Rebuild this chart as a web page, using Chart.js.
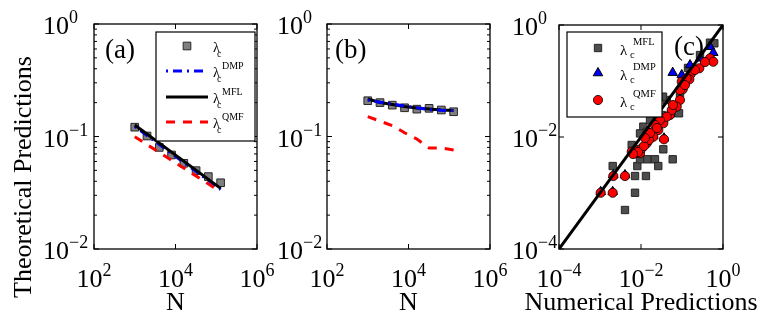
<!DOCTYPE html>
<html>
<head>
<meta charset="utf-8">
<script src="https://cdn.jsdelivr.net/npm/chart.js@4.4.0/dist/chart.umd.min.js"></script>
<style>
  body { margin: 0; background: #fff; }
  #wrap { position: relative; width: 765px; height: 320px; }
  #wrap canvas { position: absolute; left: 0; top: 0; }
</style>
</head>
<body>
<div id="wrap">
  <canvas id="chartA" width="765" height="320"></canvas>
  <canvas id="chartB" width="765" height="320"></canvas>
  <canvas id="chartC" width="765" height="320"></canvas>
</div>
<script>
// network sizes used in (a) and (b)
const sizes = [1000, 2000, 4000, 8000, 16000, 32000, 64000, 128000];
const lineEnds = [1000, 128000];

// panel (a)
const aSim = [0.121, 0.101, 0.080, 0.0685, 0.0578, 0.0497, 0.044, 0.0388];
const aDMP = [0.1227, 0.0338];
const aMFL = [0.1265, 0.0346];
const aQMF = [0.0996, 0.0323];

// panel (b)
const bSim = [0.208, 0.200, 0.190, 0.180, 0.175, 0.178, 0.172, 0.166];
const bDMP = [0.210, 0.202, 0.195, 0.187, 0.180, 0.173, 0.171, 0.170];
const bMFL = [0.2154, 0.2005, 0.1925, 0.1848, 0.179, 0.1755, 0.172, 0.1703];
const bQMF = [0.150, 0.137, 0.125, 0.108, 0.095, 0.079, 0.079, 0.076];

// panel (c): numerical vs theoretical
const mflNum = [2.04e-3, 7.15e-3, 1.32e-2, 7.15e-3, 4.07e-3, 8.13e-3, 9.46e-3, 1.43e-2, 2.19e-2, 2.64e-2,
                3.50e-2, 5.93e-2, 5.93e-3, 0.482, 0.614, 8.93e-2, 8.45e-2, 1.14e-2, 1.66e-2, 9.46e-3,
                4.24e-2, 3.44e-2, 0.14, 0.275, 3.2e-2, 1.38e-2];
const mflThe = [3.03e-3, 2.01e-3, 2.01e-3, 1.01e-3, 4.97e-4, 3.03e-3, 4.0e-3, 4.0e-3, 4.0e-3, 3.03e-3,
                6.03e-3, 4.0e-3, 7.2e-3, 0.483, 0.471, 6.03e-2, 2.65e-2, 1.53e-2, 2.01e-2, 1.16e-2,
                4.58e-2, 5.25e-2, 0.171, 0.291, 2.47e-2, 1.24e-2];

const dmpNum = [5.93e-2, 0.482, 0.579, 0.275, 0.157, 9.84e-2,
                1.04e-3, 2.04e-3, 2.11e-3, 4.07e-3, 3.64e-2, 7.15e-3, 2.0e-2, 5.09e-2];
const dmpThe = [0.141, 0.41, 0.32, 0.254, 0.193, 0.128,
                1.05e-3, 1.05e-3, 2.1e-3, 2.1e-3, 9.5e-3, 5.3e-3, 1.05e-2, 2.55e-2];

const qmfNum = [1.04e-3, 2.04e-3, 2.11e-3, 4.07e-3, 3.64e-2, 7.15e-3, 9.46e-3, 7.85e-3,
                0.482, 0.579, 0.264, 0.163, 0.151, 9.84e-2, 0.104, 8.93e-2, 7.43e-2, 5.09e-2,
                3.5e-2, 2.64e-2, 2.0e-2, 1.38e-2, 1.04e-2, 5.93e-3, 8.93e-2, 5.61e-2, 4.24e-2,
                2.9e-2, 2.19e-2, 0.130, 1.57e-2, 1.18e-2,
                1.66e-2, 1.25e-2, 2.45e-2, 6.03e-2, 0.118, 0.207, 0.364, 8.45e-3, 6.38e-3];
const qmfThe = [1.01e-3, 1.01e-3, 2.01e-3, 2.01e-3, 9.1e-3, 5.12e-3, 5.12e-3, 5.86e-3,
                0.254, 0.221, 0.169, 0.133, 0.107, 9.7e-2, 7.1e-2, 4.58e-2, 3.48e-2, 2.47e-2,
                1.76e-2, 1.33e-2, 1.01e-2, 7.71e-3, 6.28e-3, 5.47e-3, 6.9e-2, 3.03e-2, 2.3e-2,
                2.01e-2, 1.64e-2, 0.112, 8.84e-3, 6.9e-3,
                1.18e-2, 9.6e-3, 1.45e-2, 3.73e-2, 8.48e-2, 0.157, 0.218, 5.4e-3, 4.97e-3];
const diag = [1e-4, 1];

// tick values
const abXTicks = [1e2, 1e4, 1e6];
const abYTicks = [1e-2, 1e-1, 1e0];
const cTicks = [1e-4, 1e-2, 1e0];

const serif = '"Liberation Serif", "Times New Roman", serif';
const toPts = (xs, ys) => xs.map((x, i) => ({ x: x, y: ys[i] }));

const abYMinor = [];
[0.01, 0.1].forEach(d => { for (let k = 2; k <= 9; k++) abYMinor.push(k * d); });

// draws 10^exp with the exponent raised
function drawPow(ctx, exp, x, y, align) {
  const sup = exp < 0 ? '\u2212' + Math.abs(exp) : String(exp);
  ctx.font = '26px ' + serif;
  const wb = ctx.measureText('10').width;
  ctx.font = '18px ' + serif;
  const ws = ctx.measureText(sup).width;
  const x0 = align === 'center' ? x - (wb + ws) / 2 : x;
  ctx.textAlign = 'left';
  ctx.textBaseline = 'alphabetic';
  ctx.font = '26px ' + serif;
  ctx.fillText('10', x0, y);
  ctx.font = '18px ' + serif;
  ctx.fillText(sup, x0 + wb, y - 11);
}

const framePlugin = {
  id: 'frame',
  afterDatasetsDraw(chart, args, opts) {
    const ctx = chart.ctx;
    const { left, right, top, bottom } = chart.chartArea;
    const xs = chart.scales.x, ys = chart.scales.y;
    ctx.save();
    ctx.strokeStyle = '#000';
    ctx.fillStyle = '#000';
    ctx.lineWidth = 1.3;
    ctx.setLineDash([]);
    ctx.strokeRect(left, top, right - left, bottom - top);

    // tick marks on all four sides, pointing inwards
    ctx.lineWidth = 1;
    ctx.beginPath();
    opts.xTicks.forEach(v => {
      const px = xs.getPixelForValue(v);
      ctx.moveTo(px, bottom); ctx.lineTo(px, bottom - 5);
      ctx.moveTo(px, top); ctx.lineTo(px, top + 5);
    });
    opts.yTicks.forEach(v => {
      const py = ys.getPixelForValue(v);
      ctx.moveTo(left, py); ctx.lineTo(left + 5, py);
      ctx.moveTo(right, py); ctx.lineTo(right - 5, py);
    });
    (opts.yMinor || []).forEach(v => {
      const py = ys.getPixelForValue(v);
      ctx.moveTo(left, py); ctx.lineTo(left + 3, py);
      ctx.moveTo(right, py); ctx.lineTo(right - 3, py);
    });
    ctx.stroke();

    // tick labels
    opts.xTicks.forEach(v => drawPow(ctx, Math.round(Math.log10(v)), xs.getPixelForValue(v), bottom + 38, 'center'));
    opts.yTicks.forEach(v => drawPow(ctx, Math.round(Math.log10(v)), opts.yLabelX, ys.getPixelForValue(v) + 10, 'left'));

    // axis titles
    ctx.font = '26px ' + serif;
    ctx.textAlign = 'center';
    ctx.textBaseline = 'alphabetic';
    ctx.fillText(opts.xTitle, (left + right) / 2, 310);
    if (opts.yTitle) {
      ctx.save();
      ctx.translate(31, 177);
      ctx.rotate(-Math.PI / 2);
      ctx.fillText(opts.yTitle, 0, 0);
      ctx.restore();
    }

    // panel tag
    ctx.font = '27px ' + serif;
    ctx.textAlign = 'left';
    ctx.fillText(opts.tag[0], opts.tag[1], opts.tag[2]);

    // legend
    const lg = opts.legend;
    if (lg.rows.length) {
      ctx.fillStyle = '#fff';
      ctx.fillRect(lg.box[0], lg.box[1], lg.box[2], lg.box[3]);
      ctx.lineWidth = 1.2;
      ctx.strokeStyle = '#000';
      ctx.strokeRect(lg.box[0], lg.box[1], lg.box[2], lg.box[3]);
    }
    lg.rows.forEach(row => {
      const ds = chart.data.datasets[row[0]];
      const y = row[1];
      ctx.save();
      if (ds.showLine) {
        ctx.strokeStyle = ds.borderColor;
        ctx.lineWidth = ds.borderWidth;
        ctx.setLineDash(ds.borderDash || []);
        ctx.beginPath();
        ctx.moveTo(lg.lineX[0], y);
        ctx.lineTo(lg.lineX[1], y);
        ctx.stroke();
      } else {
        ctx.fillStyle = ds.backgroundColor;
        ctx.strokeStyle = ds.borderColor;
        ctx.lineWidth = ds.borderWidth;
        Chart.helpers.drawPoint(ctx, { pointStyle: ds.pointStyle, radius: ds.pointRadius, borderWidth: ds.borderWidth, rotation: 0 }, lg.markX, y);
      }
      ctx.restore();
      const t = lg.text;
      ctx.fillStyle = '#000';
      ctx.textAlign = 'left';
      ctx.font = t.big + 'px ' + serif;
      ctx.fillText('\u03bb', t.x, y + t.lamDy);
      ctx.font = t.small + 'px ' + serif;
      ctx.fillText('c', t.x + t.subDx, y + t.subDy);
      if (row[2]) ctx.fillText(row[2], t.x + t.supDx, y + t.supDy);
    });
    ctx.restore();
  }
};

function baseOptions(pad, xr, yr, frame) {
  return {
    responsive: false,
    animation: false,
    devicePixelRatio: 1,
    events: [],
    layout: { padding: pad },
    plugins: { legend: { display: false }, tooltip: { enabled: false }, frame: frame },
    scales: {
      x: { type: 'logarithmic', display: false, min: xr[0], max: xr[1] },
      y: { type: 'logarithmic', display: false, min: yr[0], max: yr[1] }
    }
  };
}

const simStyle = { pointStyle: 'rect', pointRadius: 5.4, pointHoverRadius: 5.4, backgroundColor: '#7f7f7f', borderColor: '#262626', borderWidth: 1, showLine: false };
const dmpLine = { showLine: true, pointRadius: 0, pointHoverRadius: 0, borderColor: '#0000ff', borderWidth: 3, borderDash: [2, 5, 9, 5] };
const mflLine = { showLine: true, pointRadius: 0, pointHoverRadius: 0, borderColor: '#000000', borderWidth: 3 };
const qmfLine = { showLine: true, pointRadius: 0, pointHoverRadius: 0, borderColor: '#ff0000', borderWidth: 3, borderDash: [9, 8] };

const abText = { x: 213, big: 14, small: 10, lamDy: 6, subDx: 4, subDy: 11, supDx: 9, supDy: -2.5 };

// (a)
new Chart(document.getElementById('chartA'), {
  type: 'scatter',
  data: {
    datasets: [
      Object.assign({ label: 'sim', data: toPts(sizes, aSim), order: 4 }, simStyle),
      Object.assign({ label: 'DMP', data: toPts(lineEnds, aDMP), order: 3 }, dmpLine),
      Object.assign({ label: 'MFL', data: toPts(lineEnds, aMFL), order: 2 }, mflLine),
      Object.assign({ label: 'QMF', data: toPts(lineEnds, aQMF), order: 1 }, qmfLine)
    ]
  },
  options: baseOptions({ left: 94, top: 24, right: 508, bottom: 71 }, [1e2, 1e6], [1e-2, 1e0], {
    xTicks: abXTicks, yTicks: abYTicks, yMinor: abYMinor, yLabelX: 43,
    xTitle: 'N', yTitle: 'Theoretical Predictions', tag: ['(a)', 105, 58],
    legend: {
      box: [156, 32, 99, 109], markX: 187, lineX: [166, 208], text: abText,
      rows: [[0, 46, ''], [1, 71, 'DMP'], [2, 97, 'MFL'], [3, 122, 'QMF']]
    }
  }),
  plugins: [framePlugin]
});

// (b)
new Chart(document.getElementById('chartB'), {
  type: 'scatter',
  data: {
    datasets: [
      Object.assign({ label: 'sim', data: toPts(sizes, bSim), order: 4 }, simStyle),
      Object.assign({ label: 'DMP', data: toPts(sizes, bDMP), order: 2 }, dmpLine),
      Object.assign({ label: 'MFL', data: toPts(sizes, bMFL), order: 3 }, mflLine),
      Object.assign({ label: 'QMF', data: toPts(sizes, bQMF), order: 1 }, qmfLine)
    ]
  },
  options: baseOptions({ left: 327, top: 24, right: 275, bottom: 71 }, [1e2, 1e6], [1e-2, 1e0], {
    xTicks: abXTicks, yTicks: abYTicks, yMinor: abYMinor, yLabelX: 277,
    xTitle: 'N', tag: ['(b)', 335, 58],
    legend: { box: [0, 0, 0, 0], rows: [], markX: 0, lineX: [0, 0], text: abText }
  }),
  plugins: [framePlugin]
});

// (c)
new Chart(document.getElementById('chartC'), {
  type: 'scatter',
  data: {
    datasets: [
      { label: 'MFL', data: toPts(mflNum, mflThe), pointStyle: 'rect', pointRadius: 5.2, pointHoverRadius: 5.2, backgroundColor: '#4d4d4d', borderColor: '#262626', borderWidth: 1, order: 4 },
      { label: 'DMP', data: toPts(dmpNum, dmpThe), pointStyle: 'triangle', pointRadius: 5.5, pointHoverRadius: 5.5, backgroundColor: '#0000ff', borderColor: '#000000', borderWidth: 1, order: 3 },
      { label: 'QMF', data: toPts(qmfNum, qmfThe), pointStyle: 'circle', pointRadius: 4.6, pointHoverRadius: 4.6, backgroundColor: '#ff0000', borderColor: '#000000', borderWidth: 0.8, order: 2 },
      { label: 'y=x', data: toPts(diag, diag), showLine: true, pointRadius: 0, pointHoverRadius: 0, borderColor: '#000000', borderWidth: 3, order: 1 }
    ]
  },
  options: baseOptions({ left: 559, top: 25, right: 42, bottom: 71 }, [1e-4, 1e0], [1e-4, 1e0], {
    xTicks: cTicks, yTicks: cTicks, yLabelX: 512,
    xTitle: 'Numerical Predictions', tag: ['(c)', 674, 55],
    legend: {
      box: [567, 32, 95, 85], markX: 598, lineX: [0, 0],
      text: { x: 620, big: 15, small: 10.5, lamDy: 7, subDx: 10, subDy: 10, supDx: 13, supDy: -3 },
      rows: [[0, 48, 'MFL'], [1, 73, 'DMP'], [2, 100, 'QMF']]
    }
  }),
  plugins: [framePlugin]
});
</script>
</body>
</html>
